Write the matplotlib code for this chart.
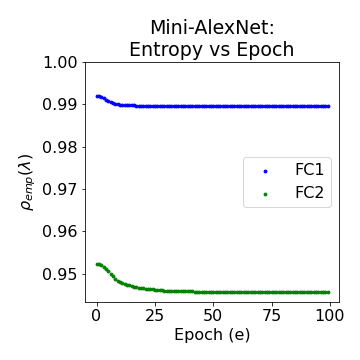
import matplotlib
matplotlib.use('Agg')
import matplotlib.pyplot as plt

epochs = list(range(100))

# FC1 values
fc1 = [0.99200, 0.99190, 0.99165, 0.99140, 0.99110, 0.99080, 0.99055, 0.99030, 0.99010, 0.99000,
       0.98995, 0.98990, 0.98985, 0.98985, 0.98980, 0.98980, 0.98975, 0.98965, 0.98960, 0.98960,
       0.98958, 0.98957, 0.98956, 0.98956, 0.98955, 0.98955, 0.98955, 0.98955, 0.98955, 0.98955,
       0.98955, 0.98955, 0.98955, 0.98955, 0.98955, 0.98955, 0.98955, 0.98955, 0.98955, 0.98955,
       0.98955, 0.98955, 0.98955, 0.98955, 0.98955, 0.98955, 0.98955, 0.98955, 0.98955, 0.98955,
       0.98955, 0.98955, 0.98955, 0.98955, 0.98955, 0.98955, 0.98955, 0.98955, 0.98955, 0.98955,
       0.98955, 0.98955, 0.98955, 0.98955, 0.98955, 0.98955, 0.98955, 0.98955, 0.98955, 0.98955,
       0.98955, 0.98955, 0.98955, 0.98955, 0.98955, 0.98955, 0.98955, 0.98955, 0.98955, 0.98955,
       0.98955, 0.98955, 0.98955, 0.98955, 0.98955, 0.98955, 0.98955, 0.98955, 0.98955, 0.98955,
       0.98955, 0.98955, 0.98955, 0.98955, 0.98955, 0.98955, 0.98955, 0.98955, 0.98955, 0.98955]

# FC2 values
fc2 = [0.95240, 0.95225, 0.95200, 0.95165, 0.95120, 0.95065, 0.95000, 0.94940, 0.94885, 0.94835,
       0.94800, 0.94775, 0.94755, 0.94740, 0.94725, 0.94710, 0.94695, 0.94680, 0.94670, 0.94660,
       0.94655, 0.94650, 0.94645, 0.94640, 0.94635, 0.94625, 0.94620, 0.94615, 0.94610, 0.94605,
       0.94600, 0.94600, 0.94598, 0.94598, 0.94596, 0.94596, 0.94594, 0.94594, 0.94592, 0.94592,
       0.94590, 0.94590, 0.94565, 0.94565, 0.94565, 0.94565, 0.94565, 0.94565, 0.94565, 0.94565,
       0.94565, 0.94565, 0.94565, 0.94565, 0.94565, 0.94565, 0.94565, 0.94565, 0.94565, 0.94565,
       0.94565, 0.94565, 0.94565, 0.94565, 0.94565, 0.94565, 0.94565, 0.94565, 0.94565, 0.94565,
       0.94565, 0.94565, 0.94565, 0.94565, 0.94565, 0.94565, 0.94565, 0.94565, 0.94565, 0.94565,
       0.94565, 0.94565, 0.94565, 0.94565, 0.94565, 0.94565, 0.94565, 0.94565, 0.94565, 0.94565,
       0.94565, 0.94565, 0.94565, 0.94565, 0.94565, 0.94565, 0.94565, 0.94565, 0.94565, 0.94565]

fig, ax = plt.subplots(figsize=(5, 5), dpi=72)
fig.subplots_adjust(left=0.236, right=0.942, bottom=0.161, top=0.828)

ax.scatter(epochs, fc1, s=8, c='blue', label='FC1')
ax.scatter(epochs, fc2, s=8, c='green', label='FC2')

ax.set_ylim(top=1.0)
ax.set_xticks([0, 25, 50, 75, 100])
ax.tick_params(labelsize=16)

ax.set_xlabel('Epoch (e)', fontsize=16)
ax.set_ylabel(r'$\rho_{emp}(\lambda)$', fontsize=16)
ax.set_title('Mini-AlexNet:\nEntropy vs Epoch', fontsize=19)
ax.legend(loc='center right', fontsize=16)

fig.savefig('out.png')
